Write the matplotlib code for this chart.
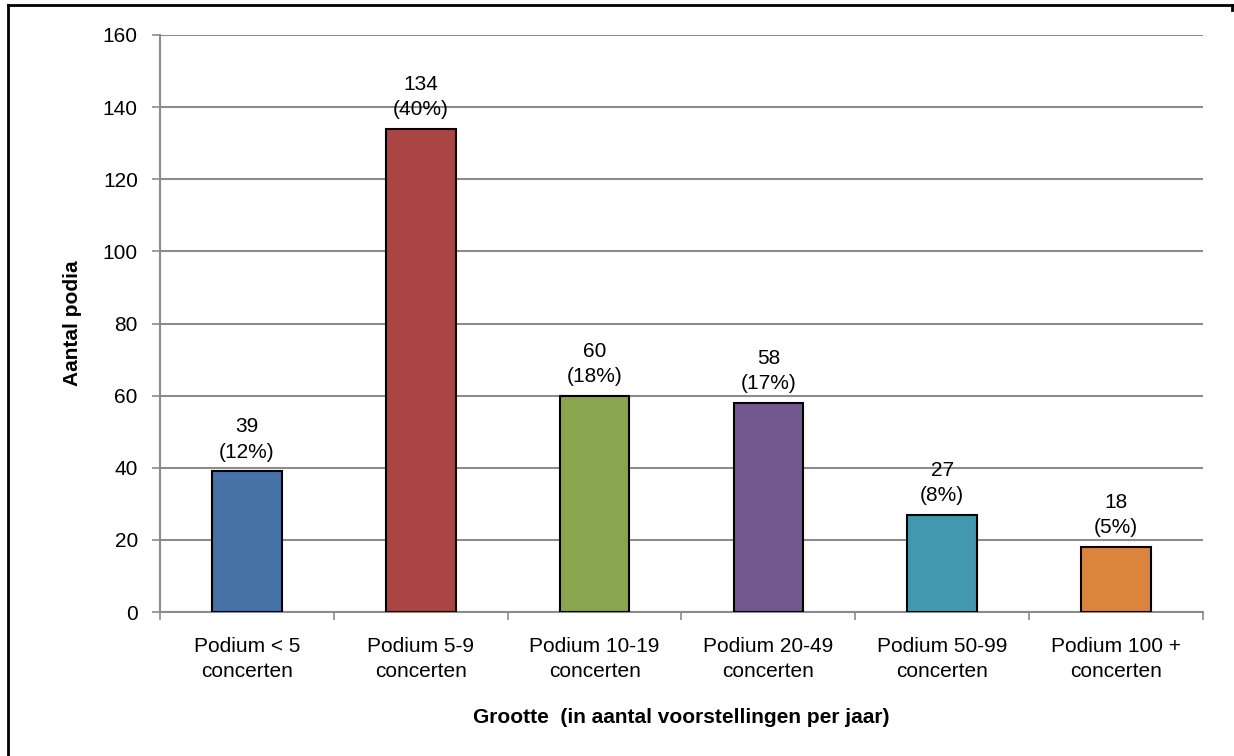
import numpy as np
import matplotlib.pyplot as plt
from matplotlib.lines import Line2D

plt.rcParams['font.family'] = ['Liberation Sans', 'DejaVu Sans']

# data
categories = ['Podium < 5\nconcerten', 'Podium 5-9\nconcerten', 'Podium 10-19\nconcerten',
              'Podium 20-49\nconcerten', 'Podium 50-99\nconcerten', 'Podium 100 +\nconcerten']
counts = [39, 134, 60, 58, 27, 18]
percents = ['12%', '40%', '18%', '17%', '8%', '5%']
colors = ['#4672A8', '#A94643', '#89A54E', '#71588F', '#4198AF', '#DB843D']

fs = 15

fig = plt.figure(figsize=(12.34, 7.56), dpi=100)
ax = fig.add_axes([160 / 1234, 1 - 612 / 756, (1203 - 160) / 1234, (612 - 35) / 756])

x = np.arange(len(counts))
ax.bar(x, counts, width=0.4, color=colors, edgecolor='black', linewidth=1.5, zorder=3)

for xi, c, p in zip(x, counts, percents):
    ax.annotate('%d\n(%s)' % (c, p), (xi, c), xytext=(0, 7), textcoords='offset points',
                ha='center', va='bottom', fontsize=fs, linespacing=1.42)

ax.set_xlim(-0.5, len(counts) - 0.5)
ax.set_ylim(0, 160)
ax.set_yticks(np.arange(0, 161, 20))
ax.yaxis.grid(True, color='#8c8c8c', linewidth=1.5, zorder=0)
ax.set_axisbelow(True)

ax.set_xticks(x)
ax.set_xticklabels(categories, fontsize=fs, linespacing=1.38)
ax.set_xticks(np.arange(-0.5, len(counts)), minor=True)
ax.tick_params(axis='x', which='major', length=0, pad=18)
ax.tick_params(axis='x', which='minor', length=6, color='#8c8c8c', width=1.2)
ax.tick_params(axis='y', length=6, color='#8c8c8c', width=1.2, labelsize=fs, pad=10)

for s in ['top', 'right']:
    ax.spines[s].set_visible(False)
for s in ['left', 'bottom']:
    ax.spines[s].set_color('#8c8c8c')
    ax.spines[s].set_linewidth(1.5)

ax.set_ylabel('Aantal podia', fontsize=fs, fontweight='bold', labelpad=15)
ax.set_xlabel('Grootte  (in aantal voorstellingen per jaar)', fontsize=fs,
              fontweight='bold', labelpad=20)

# frame of the document around the chart
fig.add_artist(Line2D([8 / 1234, 1232 / 1234], [1 - 5 / 756, 1 - 5 / 756],
                      transform=fig.transFigure, color='black', linewidth=2))
fig.add_artist(Line2D([8 / 1234, 8 / 1234], [0, 1 - 5 / 756],
                      transform=fig.transFigure, color='black', linewidth=2))
fig.add_artist(Line2D([1232 / 1234, 1232 / 1234], [1 - 5 / 756, 1 - 10 / 756],
                      transform=fig.transFigure, color='black', linewidth=2))

fig.savefig('out.png', dpi=100)
